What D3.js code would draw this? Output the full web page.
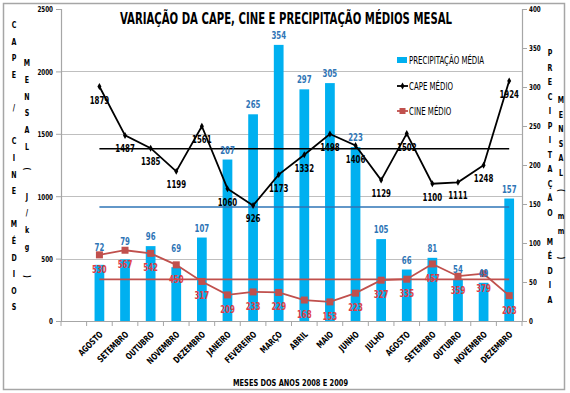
<!DOCTYPE html>
<html lang="pt">
<head>
<meta charset="utf-8">
<title>CAPE, CINE e Precipitação</title>
<script src="https://d3js.org/d3.v7.min.js"></script>
<style>
  body { margin: 0; background: #fff; }
  text { font-family: "DejaVu Sans Condensed", "Liberation Sans Narrow", sans-serif; font-weight: bold; }
</style>
</head>
<body>
<script>
// months Aug 2008 .. Dec 2009
var months = ["AGOSTO", "SETEMBRO", "OUTUBRO", "NOVEMBRO", "DEZEMBRO", "JANEIRO", "FEVEREIRO",
  "MARÇO", "ABRIL", "MAIO", "JUNHO", "JULHO", "AGOSTO", "SETEMBRO", "OUTUBRO", "NOVEMBRO", "DEZEMBRO"];
var precip = [72, 79, 96, 69, 107, 207, 265, 354, 297, 305, 223, 105, 66, 81, 54, 49, 157];
var cape = [1879, 1487, 1385, 1199, 1561, 1060, 926, 1173, 1332, 1498, 1406, 1129, 1502, 1100, 1111, 1248, 1924];
var cine = [530, 567, 542, 450, 317, 209, 233, 229, 168, 153, 223, 327, 335, 457, 359, 379, 203];
// mean lines
var capeMean = 1380, cineMean = 334, precipMean = 146;
var leftTicks = [0, 500, 1000, 1500, 2000, 2500];
var rightTicks = [0, 50, 100, 150, 200, 250, 300, 350, 400];

var W = 570, H = 393;
var mL = 61, mR = 522, mT = 9, mB = 321;
var SX = 0.78; // squeeze, the original font is much narrower

var svg = d3.select("body").append("svg")
  .attr("width", W).attr("height", H);

// text helper: squeezed horizontally around its anchor
function txt(g, x, y, str, size, anchor, rot, sx) {
  return g.append("text")
    .attr("transform", "translate(" + x + "," + y + ")" + (rot ? " rotate(" + rot + ")" : "") +
      " scale(" + (sx || SX) + ",1)")
    .attr("text-anchor", anchor || "middle")
    .attr("font-size", size)
    .attr("fill", "#000")
    .text(str);
}

svg.append("rect")
  .attr("x", 3.5).attr("y", 3.5).attr("width", 561).attr("height", 386)
  .attr("fill", "#fff").attr("stroke", "#A6A6A6").attr("stroke-width", 1.5);

// first slot is left empty, like in the original
var idx = d3.range(-1, months.length);
var x = d3.scaleBand().domain(idx).range([mL, mR]).paddingInner(0.62).paddingOuter(0.31);
var cx = function(i) { return x(i) + x.bandwidth() / 2; };
var step = x.step();

var yL = d3.scaleLinear().domain([0, 2500]).range([mB, mT]);
var yR = d3.scaleLinear().domain([0, 400]).range([mB, mT]);

// gridlines
svg.append("g").selectAll("line")
  .data([500, 1000, 1500, 2000])
  .enter().append("line")
  .attr("x1", mL).attr("x2", mR)
  .attr("y1", function(d) { return Math.round(yL(d)) + 0.5; })
  .attr("y2", function(d) { return Math.round(yL(d)) + 0.5; })
  .attr("stroke", "#BFBFBF").attr("stroke-width", 1);

// bars
svg.append("g").selectAll("rect")
  .data(precip)
  .enter().append("rect")
  .attr("x", function(d, i) { return x(i); })
  .attr("width", x.bandwidth())
  .attr("y", function(d) { return yR(d); })
  .attr("height", function(d) { return mB - yR(d); })
  .attr("fill", "#00B0F0");

// mean lines
var x0 = cx(0), x1 = cx(months.length - 1);
svg.append("line").attr("x1", x0).attr("x2", x1)
  .attr("y1", yR(precipMean)).attr("y2", yR(precipMean))
  .attr("stroke", "#2E75B6").attr("stroke-width", 1.5);
svg.append("line").attr("x1", x0).attr("x2", x1)
  .attr("y1", yL(cineMean)).attr("y2", yL(cineMean))
  .attr("stroke", "#C0504D").attr("stroke-width", 1.8);
svg.append("line").attr("x1", x0).attr("x2", x1)
  .attr("y1", yL(capeMean)).attr("y2", yL(capeMean))
  .attr("stroke", "#000").attr("stroke-width", 1.5);

// CINE line
var line = d3.line()
  .x(function(d, i) { return cx(i); })
  .y(function(d) { return yL(d); });

svg.append("path").datum(cine)
  .attr("d", line).attr("fill", "none")
  .attr("stroke", "#C0504D").attr("stroke-width", 1.8);
svg.append("g").selectAll("rect")
  .data(cine)
  .enter().append("rect")
  .attr("x", function(d, i) { return cx(i) - 3.5; })
  .attr("y", function(d) { return yL(d) - 3.5; })
  .attr("width", 7).attr("height", 7)
  .attr("fill", "#C0504D");

// CAPE line
svg.append("path").datum(cape)
  .attr("d", line).attr("fill", "none")
  .attr("stroke", "#000").attr("stroke-width", 1.8);
svg.append("g").selectAll("path.mk")
  .data(cape)
  .enter().append("path")
  .attr("class", "mk")
  .attr("d", d3.symbol().type(d3.symbolDiamond).size(14))
  .attr("transform", function(d, i) { return "translate(" + cx(i) + "," + yL(d) + ")"; })
  .attr("fill", "#000");

// data labels (a few precipitation labels were lifted by hand in the original)
var lift = { 0: 8, 1: 8, 3: 9 };
var gLab = svg.append("g");
precip.forEach(function(d, i) {
  txt(gLab, cx(i), yR(d) - 6 - (lift[i] || 0), d, 10).attr("fill", "#2E75B6");
});
cape.forEach(function(d, i) {
  txt(gLab, cx(i), yL(d) + 17, d, 10);
});
cine.forEach(function(d, i) {
  txt(gLab, cx(i), yL(d) + 18, d, 10).attr("fill", "#E03C45");
});

// axes
var axL = svg.append("g")
  .attr("transform", "translate(" + mL + ",0)")
  .call(d3.axisLeft(yL).tickValues(leftTicks).tickSize(5).tickFormat(d3.format("d")));
var axR = svg.append("g")
  .attr("transform", "translate(" + mR + ",0)")
  .call(d3.axisRight(yR).tickValues(rightTicks).tickSize(5).tickFormat(d3.format("d")));
var axB = svg.append("g")
  .attr("transform", "translate(0," + mB + ")")
  .call(d3.axisBottom(x).tickValues([]).tickSize(0));

[axL, axR, axB].forEach(function(a) {
  a.attr("font-family", null).attr("font-size", null);
  a.select(".domain").attr("stroke", "#A6A6A6").attr("stroke-width", 1.2);
  a.selectAll(".tick line").attr("stroke", "#A6A6A6");
  a.selectAll("text").attr("font-size", 8).attr("fill", "#000").attr("dy", "0.35em");
});
axL.selectAll("text").attr("x", 0).attr("transform", "translate(-8,0) scale(" + SX + ",1)");
axR.selectAll("text").attr("x", 0).attr("transform", "translate(7,0) scale(" + SX + ",1)");

// month labels, rotated
var gMon = svg.append("g");
months.forEach(function(m, i) {
  txt(gMon, cx(i) + 4, mB + 14, m, 9, "end", -45, 0.8);
});

// category boundary ticks
svg.append("g").selectAll("line")
  .data(idx.concat([months.length]))
  .enter().append("line")
  .attr("x1", function(i) { return mL + (i + 1) * step; })
  .attr("x2", function(i) { return mL + (i + 1) * step; })
  .attr("y1", mB).attr("y2", mB + 5)
  .attr("stroke", "#A6A6A6");

// title
svg.append("text")
  .attr("x", 120).attr("y", 24)
  .attr("font-size", 15.5)
  .attr("textLength", 332).attr("lengthAdjust", "spacingAndGlyphs")
  .attr("fill", "#000")
  .text("VARIAÇÃO DA CAPE, CINE E PRECIPITAÇÃO MÉDIOS MESAL");

svg.append("text")
  .attr("x", 233).attr("y", 386)
  .attr("font-size", 9)
  .attr("textLength", 115).attr("lengthAdjust", "spacingAndGlyphs")
  .attr("fill", "#000")
  .text("MESES DOS ANOS 2008 E 2009");

// stacked axis titles
function stacked(str, xPos, y0, dy) {
  var g = svg.append("g");
  str.split("").forEach(function(ch, k) {
    if (ch === " ") return;
    var yy = y0 + k * dy;
    if (ch === "(") {
      txt(g, xPos, yy - 11, ch, 9, "middle", 90).attr("dy", "0.35em");
    } else if (ch === ")") {
      txt(g, xPos, yy + 13, ch, 9, "middle", 90).attr("dy", "0.35em");
    } else {
      txt(g, xPos, yy, ch, 9, "middle").attr("dy", "0.35em");
    }
  });
}
stacked("CAPE / CINE MÉDIOS", 14, 25, 16.6);
stacked("MENSAL (J/kg)", 27, 63, 16.7);
stacked("PRECIPITAÇÃO MÉDIA", 550, 53, 14.5);
stacked("MENSAL (mm)", 561, 100, 14.5);

// legend
var lg = svg.append("g").attr("transform", "translate(397,0)");
lg.append("rect").attr("x", 0).attr("y", 57).attr("width", 10).attr("height", 6).attr("fill", "#00B0F0");
lg.append("line").attr("x1", 0).attr("x2", 11).attr("y1", 86).attr("y2", 86).attr("stroke", "#000").attr("stroke-width", 1.8);
lg.append("path").attr("d", d3.symbol().type(d3.symbolDiamond).size(14)).attr("transform", "translate(5.5,86)");
lg.append("line").attr("x1", 0).attr("x2", 11).attr("y1", 111).attr("y2", 111).attr("stroke", "#C0504D").attr("stroke-width", 1.8);
lg.append("rect").attr("x", 2.5).attr("y", 108).attr("width", 6).attr("height", 6).attr("fill", "#C0504D");
var lgText = ["PRECIPITAÇÃO MÉDIA", "CAPE MÉDIO", "CINE MÉDIO"];
lgText.forEach(function(d, i) {
  txt(lg, 12, [60, 86, 111][i], d, 10, "start")
    .attr("dy", "0.35em")
    .style("font-weight", "normal");
});
</script>
</body>
</html>
